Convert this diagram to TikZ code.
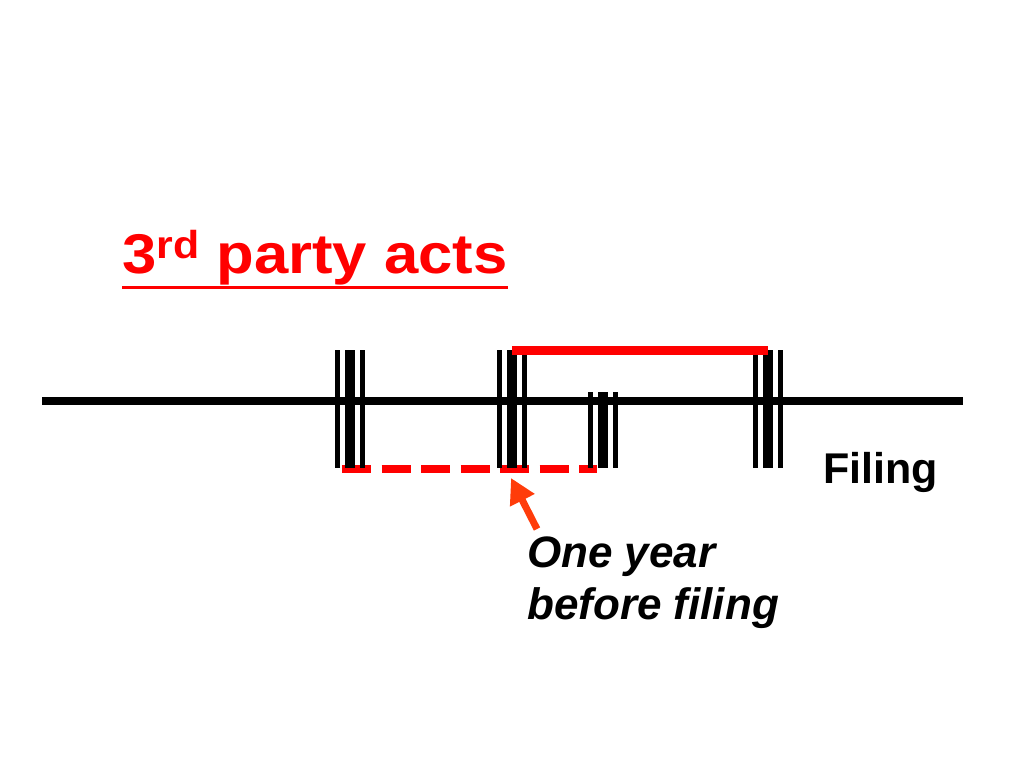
\documentclass[tikz,border=0pt]{standalone}
\usepackage{fontspec}
\setmainfont{Liberation Sans}[Ligatures=NoCommon]
\usetikzlibrary{arrows.meta}
\definecolor{arrowred}{RGB}{255,60,10}
\begin{document}
\begin{tikzpicture}[x=1pt,y=-1pt,
  timeline/.style={line width=8pt,black},
  thintick/.style={line width=5pt,black},
  thicktick/.style={line width=10pt,black},
  spanline/.style={line width=9pt,red},
  yearspan/.style={line width=8pt,red,dash pattern=on 29pt off 10.5pt},
  pointer/.style={line width=7pt,arrowred,-{Triangle[width=26pt,length=25pt]}},
  lbl/.style={inner sep=0pt,anchor=base west,font=\bfseries\fontsize{43}{52}\selectfont},
  itlbl/.style={lbl,font=\bfseries\itshape\fontsize{44}{52}\selectfont},
  titlelbl/.style={inner sep=0pt,anchor=base west,text=red,font=\bfseries\fontsize{56}{66}\selectfont},
]
\fill[white] (0,0) rectangle (1024,768);
\useasboundingbox (0,0) rectangle (1024,768);

% timeline
\coordinate (tl1) at (42,401);
\coordinate (tl2) at (963,401);
\draw[timeline] (tl1) -- (tl2);

% one-year dashed span
\coordinate (d1) at (342,469);
\coordinate (d2) at (597,469);
\draw[yearspan] (d1) -- (d2);

% tick groups
\foreach \cx/\ty in {349.5/350, 512/350, 603/392, 768/350} {
  \draw[thintick] (\cx-12.5,\ty) -- (\cx-12.5,468);
  \draw[thicktick] (\cx,\ty) -- (\cx,468);
  \draw[thintick] (\cx+12.5,\ty) -- (\cx+12.5,468);
}

% red solid span
\coordinate (s1) at (512,350);
\coordinate (s2) at (768,350);
\draw[spanline] (s1) -- (s2);

% arrow
\coordinate (atail) at (537,529);
\coordinate (atip) at (511,478);
\draw[pointer] (atail) -- (atip);

% texts
\node[titlelbl] (title) at (122,273) {\scalebox{1.1}[1]{3\raisebox{15pt}{\fontsize{39}{39}\selectfont rd} party acts}};
\draw[red,line width=3pt] ([yshift=-14pt]title.base west) -- ([yshift=-14pt]title.base east);

\node[lbl] (filing) at (823,483) {Filing};
\node[itlbl] (oneyear) at (527,567) {One year};
\node[itlbl] (before) at (527,619) {before filing};
\end{tikzpicture}
\end{document}
